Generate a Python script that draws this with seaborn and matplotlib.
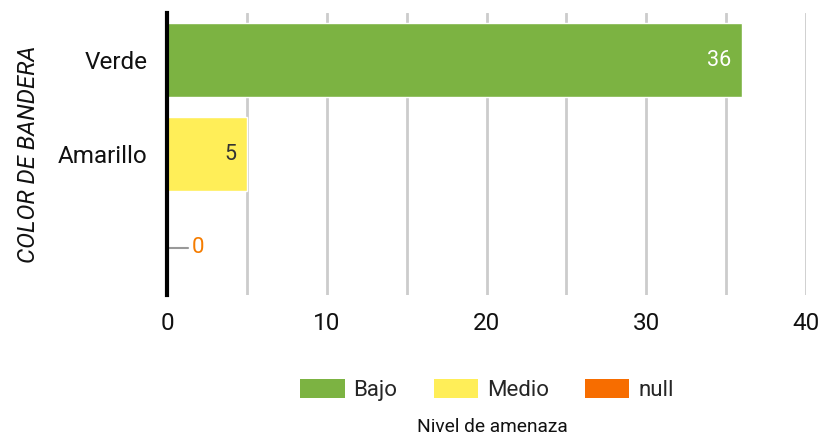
import matplotlib
matplotlib.use("Agg")
import matplotlib.pyplot as plt
import seaborn as sns
import pandas as pd
from matplotlib.ticker import MultipleLocator
from matplotlib.patches import Patch

categories = ["Verde", "Amarillo", " "]
values = [36, 5, 0]
levels = ["Bajo", "Medio", "null"]
level_colors = ["#7cb342", "#ffee58", "#f76d00"]
label_colors = ["#ffffff", "#333333", "#f57c00"]
xticks = [0, 10, 20, 30, 40]

df = pd.DataFrame({"color": categories, "count": values, "nivel": levels})
palette = dict(zip(levels, level_colors))

sns.set_theme(style="white")
plt.rcParams["font.family"] = ["Roboto", "DejaVu Sans"]

fig = plt.figure(figsize=(8.24, 4.37), dpi=100)
ax = fig.add_axes([0.2027, 0.325, 0.7755, 0.645])

sns.barplot(data=df, y="color", x="count", hue="nivel", palette=palette,
            order=categories, hue_order=levels, dodge=False, width=0.79,
            orient="h", legend=False, ax=ax, saturation=1)

ax.set_xlim(0, 40)
ax.set_ylim(2.5, -0.5)
ax.set_xticks(xticks)
ax.xaxis.set_minor_locator(MultipleLocator(5))
ax.grid(True, axis="x", which="both", color="#cccccc", lw=2)
ax.grid(False, axis="y")
ax.set_axisbelow(True)
for side in ["top", "right", "bottom"]:
    ax.spines[side].set_visible(False)
ax.spines["left"].set_color("black")
ax.spines["left"].set_linewidth(3)
ax.spines["left"].set_zorder(5)
ax.tick_params(axis="both", which="both", length=0, labelsize=17.5, colors="#111111")
ax.tick_params(axis="x", pad=12)
ax.tick_params(axis="y", pad=14)
ax.set_xlabel("")
ax.set_ylabel("COLOR DE BANDERA", fontsize=17.2, fontstyle="italic", color="#111111", labelpad=13)

for i, (v, lc) in enumerate(zip(values, label_colors)):
    if v > 0:
        ax.annotate(str(v), xy=(v, i), xytext=(-7.5, 0), textcoords="offset points",
                    ha="right", va="center", fontsize=15.5, color=lc)
    else:
        ax.annotate(str(v), xy=(v, i), xytext=(17.5, 0), textcoords="offset points",
                    ha="left", va="center", fontsize=16, color=lc,
                    arrowprops=dict(arrowstyle="-", color="#999999", lw=1.5,
                                    shrinkA=0, shrinkB=0))

handles = [Patch(facecolor=c, edgecolor="none") for c in level_colors]
fig.legend(handles, levels, loc="center", bbox_to_anchor=(0.591, 0.108), ncol=3,
           frameon=False, fontsize=16, handlelength=2.0, handleheight=1.0,
           handletextpad=0.4, columnspacing=1.62)
fig.text(0.597, 0.023, "Nivel de amenaza", ha="center", va="center", fontsize=13.8, color="#111111")

fig.savefig("out.png", dpi=100)
